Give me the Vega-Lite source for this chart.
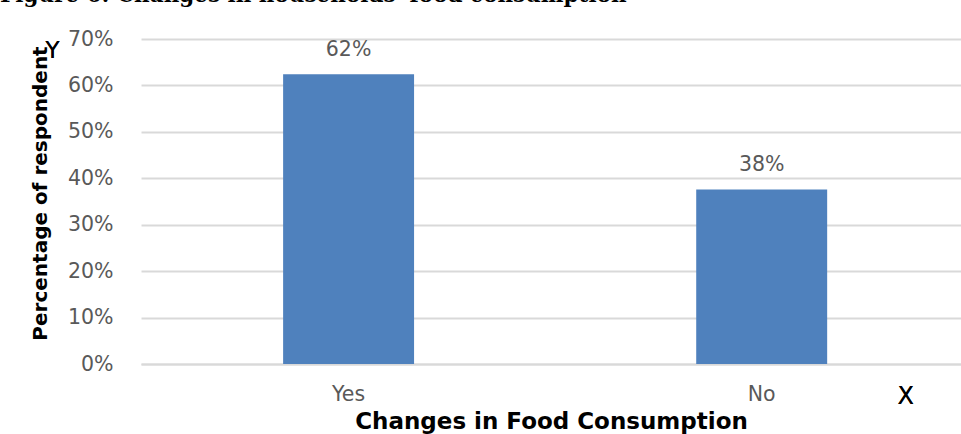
{
  "$schema": "https://vega.github.io/schema/vega-lite/v6.json",
  "width": 820,
  "height": 325,
  "autosize": {"type": "none"},
  "padding": {"left": 141, "top": 39, "right": 0, "bottom": 70},
  "background": "white",
  "title": {
    "text": "Figure 6: Changes in households' food consumption",
    "anchor": "start",
    "frame": "group",
    "dx": -141,
    "offset": 26,
    "dy": 20,
    "baseline": "alphabetic",
    "font": "DejaVu Serif",
    "fontSize": 21.5,
    "fontWeight": "bold",
    "color": "#000000"
  },
  "config": {
    "view": {"stroke": null},
    "font": "DejaVu Sans"
  },
  "data": {
    "values": [
      {"change": "Yes", "share": 0.624},
      {"change": "No", "share": 0.376}
    ]
  },
  "encoding": {
    "x": {
      "field": "change",
      "type": "nominal",
      "sort": ["Yes", "No"],
      "scale": {"paddingInner": 0.683, "paddingOuter": 0.334, "align": 0.515},
      "axis": {
        "title": "Changes in Food Consumption",
        "titleFont": "DejaVu Sans",
        "titleFontSize": 23,
        "titleFontWeight": "bold",
        "titleColor": "#000000",
        "titlePadding": 6,
        "labelAngle": 0,
        "labelFont": "DejaVu Sans",
        "labelFontSize": 20.5,
        "labelColor": "#595959",
        "labelPadding": 20,
        "ticks": false,
        "domain": true,
        "domainColor": "#d9d9d9",
        "domainWidth": 2
      }
    },
    "y": {
      "field": "share",
      "type": "quantitative",
      "scale": {"domain": [0, 0.7], "nice": false},
      "axis": {
        "values": [0, 0.1, 0.2, 0.3, 0.4, 0.5, 0.6, 0.7],
        "format": ".0%",
        "title": "Percentage of respondent",
        "titleFont": "DejaVu Sans",
        "titleFontSize": 20,
        "titleFontWeight": "bold",
        "titleColor": "#000000",
        "titleAngle": -90,
        "titleX": -101,
        "titleY": 154,
        "titleBaseline": "middle",
        "titleAlign": "center",
        "labelFont": "DejaVu Sans",
        "labelFontSize": 20.5,
        "labelColor": "#595959",
        "labelPadding": 28,
        "ticks": false,
        "domain": false,
        "grid": true,
        "gridColor": "#d9d9d9",
        "gridWidth": 2
      }
    }
  },
  "layer": [
    {
      "mark": {"type": "bar", "color": "#4f81bd"}
    },
    {
      "mark": {"type": "text", "baseline": "alphabetic", "dy": -18, "fontSize": 20.5, "color": "#595959", "font": "DejaVu Sans"},
      "encoding": {
        "text": {"field": "share", "type": "quantitative", "format": ".0%"}
      }
    },
    {
      "mark": {"type": "text", "baseline": "middle", "align": "center", "dx": -296, "fontSize": 23, "color": "#000000", "font": "DejaVu Sans"},
      "encoding": {
        "x": {"datum": "Yes"},
        "y": {"datum": 0.675},
        "text": {"value": "Y"}
      }
    },
    {
      "mark": {"type": "text", "baseline": "middle", "align": "center", "dx": 144, "dy": 33, "fontSize": 24, "color": "#000000", "font": "DejaVu Sans"},
      "encoding": {
        "x": {"datum": "No"},
        "y": {"datum": 0},
        "text": {"value": "X"}
      }
    }
  ]
}
